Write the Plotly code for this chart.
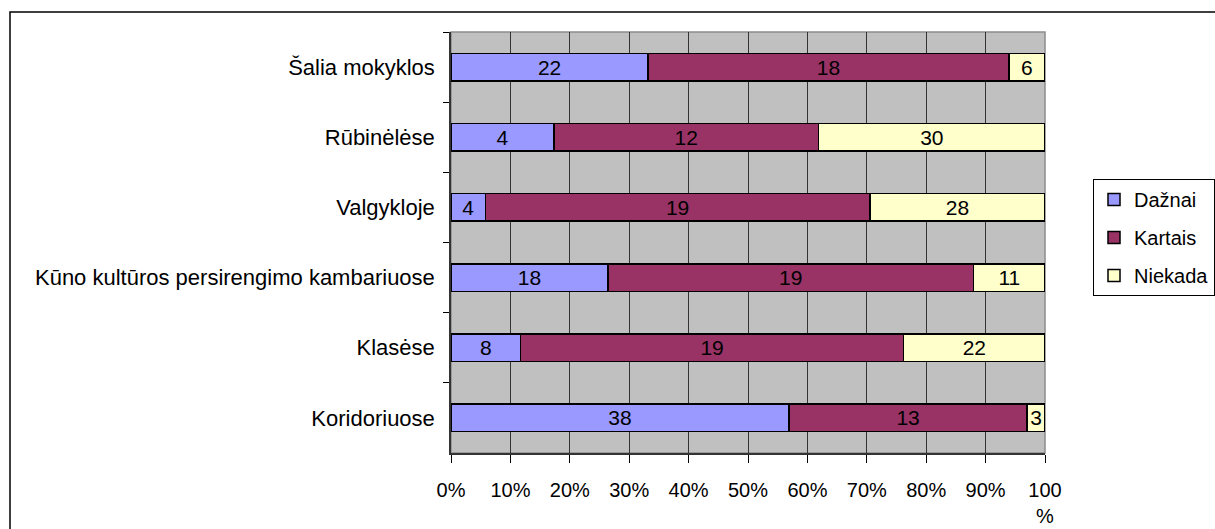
import plotly.graph_objects as go

# categories, top to bottom as in the picture
categories = [
    "Šalia mokyklos",
    "Rūbinėlėse",
    "Valgykloje",
    "Kūno kultūros persirengimo kambariuose",
    "Klasėse",
    "Koridoriuose",
]

series_names = ["Dažnai", "Kartais", "Niekada"]

# bar lengths (share of the 100% bar)
dazniai_pct = [33.2, 17.3, 5.8, 26.4, 11.7, 56.9]
kartais_pct = [60.7, 44.6, 64.7, 61.6, 64.5, 40.1]
niekada_pct = [6.1, 38.1, 29.5, 12.0, 23.8, 3.0]

# numbers printed on the bars
dazniai_lbl = [22, 4, 4, 18, 8, 38]
kartais_lbl = [18, 12, 19, 19, 19, 13]
niekada_lbl = [6, 30, 28, 11, 22, 3]

tick_vals = [0, 10, 20, 30, 40, 50, 60, 70, 80, 90, 100]
tick_text = ["0%", "10%", "20%", "30%", "40%", "50%", "60%", "70%", "80%", "90%", "100<br>%"]

COLORS = {"Dažnai": "#9999FF", "Kartais": "#993366", "Niekada": "#FFFFCC"}

FONT = "Liberation Sans, Arial, sans-serif"

# plot area in pixels (for the frame shape and legend)
W, H = 1215, 529
L, R, T, B = 451, 170, 32, 76
pw, ph = W - L - R, H - T - B


def px_x(x):
    return (x - L) / pw


def px_y(y):
    return (H - B - y) / ph


fig = go.Figure()
for name, vals, lbls in zip(
    series_names,
    [dazniai_pct, kartais_pct, niekada_pct],
    [dazniai_lbl, kartais_lbl, niekada_lbl],
):
    fig.add_trace(
        go.Bar(
            y=categories,
            x=vals,
            name=name,
            orientation="h",
            legendgroup=name,
            marker=dict(color=COLORS[name], line=dict(color="#000000", width=1.5)),
            text=[str(v) for v in lbls],
            textposition="inside",
            insidetextanchor="middle",
            textangle=0,
            constraintext="none",
            textfont=dict(family=FONT, size=21, color="#000000"),
            hoverinfo="skip",
        )
    )

fig.update_layout(
    width=W,
    height=H,
    autosize=False,
    barmode="stack",
    bargap=0.61,
    plot_bgcolor="#C0C0C0",
    paper_bgcolor="#FFFFFF",
    margin=dict(l=L, r=R, t=T, b=B, pad=0, autoexpand=False),
    font=dict(family=FONT, size=21, color="#000000"),
    showlegend=True,
    legend=dict(
        x=px_x(1093),
        y=px_y(179),
        xanchor="left",
        yanchor="top",
        traceorder="grouped",
        tracegroupgap=9,
        bordercolor="#000000",
        borderwidth=1,
        bgcolor="#FFFFFF",
        font=dict(family=FONT, size=20, color="#000000"),
        itemwidth=30,
    ),
    xaxis=dict(
        range=[0, 100],
        tickvals=tick_vals,
        ticktext=tick_text,
        ticks="outside",
        ticklen=8,
        tickcolor="#000000",
        tickfont=dict(family=FONT, size=20, color="#000000"),
        ticklabelstandoff=10,
        showgrid=True,
        gridcolor="#333333",
        gridwidth=1,
        showline=True,
        linecolor="#333333",
        linewidth=1.5,
        zeroline=False,
        automargin=False,
        fixedrange=True,
    ),
    yaxis=dict(
        autorange="reversed",
        categoryorder="array",
        categoryarray=categories,
        tickson="boundaries",
        ticks="outside",
        ticklen=6,
        tickcolor="#000000",
        tickfont=dict(family=FONT, size=22, color="#000000"),
        ticklabelstandoff=10,
        showgrid=False,
        showline=True,
        linecolor="#333333",
        linewidth=1.5,
        zeroline=False,
        automargin=False,
        fixedrange=True,
    ),
    shapes=[
        # grey frame on top/right of the plot area
        dict(type="rect", xref="paper", yref="paper", x0=0, y0=0, x1=1, y1=1,
             line=dict(color="#8C8C8C", width=1.5), layer="below"),
        # outer chart border
        dict(type="rect", xref="paper", yref="paper",
             x0=px_x(10), y0=px_y(540), x1=px_x(1225), y1=px_y(12),
             line=dict(color="#000000", width=1.5), layer="above"),
    ],
)

# page without body margin so the 1215x529 figure sits at the window origin
page_css = (
    "document.body.style.margin='0';"
    "document.body.style.overflow='hidden';"
)

fig.write_html(
    "out.html",
    config={"responsive": False, "displayModeBar": False},
    post_script=page_css,
)
